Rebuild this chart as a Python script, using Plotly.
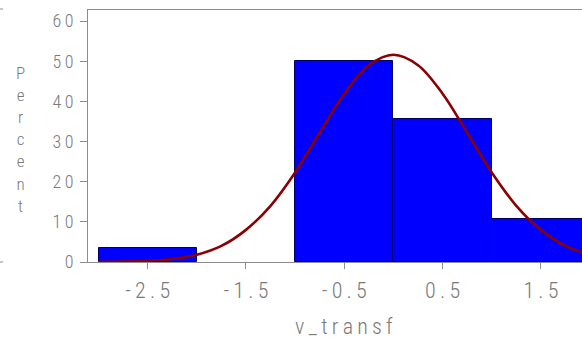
import plotly.graph_objects as go

# Histogram data (percent per bin, bin width 1)
bin_mid = [-2.5, -1.5, -0.5, 0.5, 1.5]
percent = [3.57, 0.0, 50.0, 35.71, 10.71]

# Fitted normal curve
curve_x = [-3.0, -2.75, -2.5, -2.25, -2.0, -1.75, -1.5, -1.25, -1.0, -0.75, -0.5,
           -0.25, 0.0, 0.25, 0.5, 0.75, 1.0, 1.25, 1.5, 1.75, 2.0]
curve_y = [0.03, 0.09, 0.28, 0.75, 1.8, 4.0, 8.0, 14.0, 22.3, 32.2, 41.9,
           49.0, 51.6, 49.0, 41.9, 32.2, 22.3, 14.0, 8.0, 4.0, 1.8]

x_ticks = [-2.5, -1.5, -0.5, 0.5, 1.5]
x_ticktext = ["-\u20092\u2009.\u20095", "-\u20091\u2009.\u20095", "-\u20090\u2009.\u20095",
              "0\u2009.\u20095", "1\u2009.\u20095"]
y_ticks = [0, 10, 20, 30, 40, 50, 60]
y_ticktext = ["0", "1\u20090", "2\u20090", "3\u20090", "4\u20090", "5\u20090", "6\u20090"]

W, H = 582, 340
ML, MR, MT, MB = 88, 0, 10, 78
PW = W - ML - MR

GRAY = "#8c8c8c"
TXT = "#7a7a7a"
FONT = "Roboto Condensed, DejaVu Sans Condensed, Liberation Sans Narrow, Roboto, sans-serif"

fig = go.Figure()
fig.add_trace(go.Bar(
    x=bin_mid, y=percent, width=1.0,
    marker=dict(color="#0000ff",
                line=dict(color="#000060", width=[1 if p > 0 else 0 for p in percent])),
    hoverinfo="skip",
))
fig.add_trace(go.Scatter(
    x=curve_x, y=curve_y, mode="lines", line=dict(color="#8b0000", width=2.6, shape="spline"),
    hoverinfo="skip",
))

fig.update_layout(
    width=W, height=H,
    margin=dict(l=ML, r=MR, t=MT, b=MB, pad=0),
    paper_bgcolor="white", plot_bgcolor="white",
    showlegend=False,
    bargap=0,
    font=dict(family=FONT, color=TXT),
    xaxis=dict(
        range=[-3.107, 1.918], tickvals=x_ticks, ticktext=x_ticktext,
        showgrid=False, zeroline=False, showline=True, linecolor=GRAY, linewidth=1,
        mirror=True, ticks="outside", ticklen=6, tickcolor=GRAY, tickwidth=1,
        tickfont=dict(size=22, color=TXT, family=FONT, weight=300),
        ticklabelstandoff=3,
    ),
    yaxis=dict(
        range=[0, 62.75], tickvals=y_ticks, ticktext=y_ticktext,
        showgrid=False, zeroline=False, showline=True, linecolor=GRAY, linewidth=1,
        ticks="outside", ticklen=7, tickcolor=GRAY, tickwidth=1,
        tickfont=dict(size=18, color=TXT, family=FONT, weight=300),
        ticklabelstandoff=3,
    ),
)

# Axis titles
fig.add_annotation(
    text="v\u2009_\u2009t\u2009r\u2009a\u2009n\u2009s\u2009f",
    xref="paper", yref="paper",
    x=(343.5 - ML) / PW, y=-(326 - (H - MB)) / (H - MT - MB),
    showarrow=False, xanchor="center", yanchor="middle",
    font=dict(size=22, color=TXT, family=FONT, weight=300),
)
fig.add_annotation(
    text="<br>".join(list("Percent")),
    xref="paper", yref="paper",
    x=(20 - ML) / PW, y=1 - (139 - MT) / (H - MT - MB),
    showarrow=False, xanchor="center", yanchor="middle",
    font=dict(size=17, color=TXT, family=FONT, weight=300),
)

# small outer frame marks at far left
for yy in (9, 262):
    fig.add_shape(type="line", xref="paper", yref="paper",
                  x0=(0 - ML) / PW, x1=(3 - ML) / PW,
                  y0=1 - (yy - MT) / (H - MT - MB), y1=1 - (yy - MT) / (H - MT - MB),
                  line=dict(color=GRAY, width=1))

fig.write_html("out.html")
